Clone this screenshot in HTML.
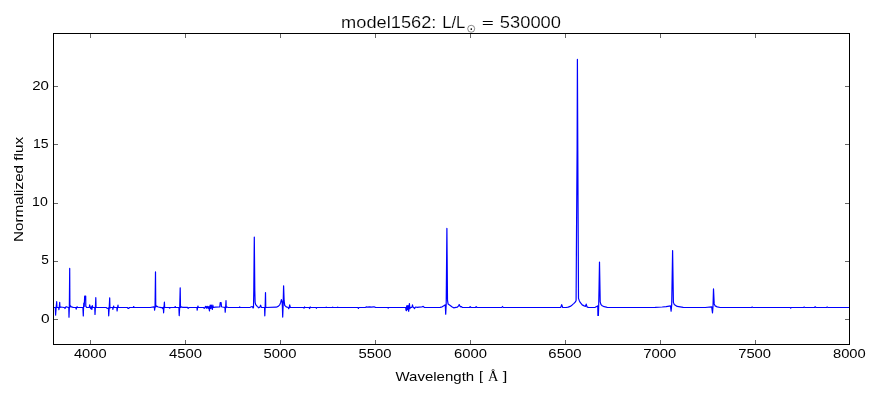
<!DOCTYPE html>
<html><head><meta charset="utf-8"><style>
html,body{margin:0;padding:0;background:#fff;width:880px;height:400px;overflow:hidden}
svg{display:block}
text{font-family:"Liberation Sans",sans-serif;fill:#000}
</style></head><body>
<svg width="880" height="400" viewBox="0 0 880 400">
<rect width="880" height="400" fill="#fff"/>
<defs><clipPath id="ax"><rect x="53" y="33" width="797" height="312"/></clipPath></defs>
<path d="M53.20 307.50 L55.35 307.50 L55.60 315.10 L56.15 307.50 L56.70 301.70 L56.95 307.50 L58.65 307.50 L58.90 309.70 L59.30 307.50 L59.70 302.30 L59.95 307.50 L60.70 307.00 L64.00 307.50 L64.50 307.50 L65.00 308.58 L65.50 307.50 L66.20 306.70 L68.40 307.50 L68.80 307.50 L69.00 317.20 L69.35 307.50 L69.70 268.40 L69.90 307.50 L70.30 305.60 L71.40 306.90 L73.20 307.30 L75.50 307.50 L75.75 307.50 L76.20 309.20 L76.65 307.50 L77.00 306.80 L77.80 307.50 L82.90 307.50 L83.30 315.90 L83.55 307.50 L83.80 303.00 L84.20 306.40 L84.70 296.00 L85.70 296.00 L85.80 306.40 L86.80 307.50 L89.20 307.50 L89.70 304.80 L90.30 307.80 L90.80 308.64 L91.30 306.90 L91.90 309.50 L92.30 305.60 L92.80 307.50 L94.75 307.50 L95.00 314.40 L95.40 307.50 L95.80 297.70 L96.05 307.50 L106.40 307.50 L107.00 308.28 L107.80 308.40 L108.45 308.00 L108.70 315.80 L109.20 308.00 L109.70 297.90 L109.95 308.00 L110.70 307.50 L112.65 307.50 L112.90 309.50 L113.30 307.50 L113.70 306.00 L113.95 307.50 L116.85 307.50 L117.10 311.00 L117.55 307.50 L118.00 305.20 L118.25 307.50 L127.50 307.50 L128.00 308.40 L128.80 308.40 L129.30 307.50 L133.20 307.50 L133.70 306.60 L134.20 307.50 L150.20 307.50 L153.80 306.80 L154.35 307.00 L154.60 310.20 L155.05 307.00 L155.50 271.80 L155.75 307.00 L156.10 305.90 L158.20 307.00 L161.20 307.70 L162.40 307.70 L162.80 308.70 L163.20 307.40 L163.35 307.50 L163.60 312.80 L164.00 307.50 L164.40 302.00 L164.65 307.50 L169.10 307.50 L169.70 308.22 L170.30 307.50 L174.70 307.50 L175.20 306.60 L175.70 307.50 L178.90 307.50 L179.20 315.60 L179.70 307.50 L180.20 287.80 L180.50 307.50 L181.40 306.90 L182.40 307.30 L187.50 307.30 L188.20 308.34 L189.10 307.50 L196.95 307.50 L197.20 310.20 L197.60 307.50 L198.00 306.00 L198.25 307.50 L203.70 307.50 L204.20 308.40 L205.00 307.40 L205.70 306.30 L206.40 308.22 L207.20 306.30 L208.00 308.34 L208.80 306.60 L209.45 311.00 L209.80 307.40 L210.20 305.20 L210.70 308.40 L211.30 305.20 L211.80 307.90 L212.40 309.50 L212.80 305.20 L213.30 307.50 L215.20 307.20 L219.80 306.90 L220.20 302.60 L221.10 302.60 L221.50 306.70 L222.40 307.00 L224.70 307.30 L224.95 307.50 L225.20 312.10 L225.60 307.50 L226.00 300.70 L226.25 307.50 L227.00 307.00 L228.20 307.50 L239.20 307.50 L239.70 307.00 L240.20 307.50 L250.20 307.30 L252.20 306.50 L253.10 308.00 L253.50 307.40 L253.80 290.40 L254.30 237.00 L254.80 290.40 L255.10 302.40 L255.70 304.60 L257.20 306.40 L258.70 307.80 L259.80 307.30 L260.60 305.20 L261.40 307.40 L264.55 307.50 L264.80 315.80 L265.15 307.50 L265.50 292.60 L265.75 307.50 L276.20 307.20 L278.20 306.40 L279.70 304.90 L280.70 302.40 L281.40 299.60 L282.10 301.90 L282.40 306.90 L282.70 317.10 L283.10 306.40 L283.60 285.80 L284.10 300.40 L284.70 305.40 L286.20 306.90 L288.20 307.50 L288.70 308.64 L289.20 307.50 L289.70 304.80 L290.30 307.50 L303.55 307.50 L304.00 308.16 L304.45 307.50 L304.30 307.50 L304.60 306.90 L304.90 307.50 L309.15 307.50 L309.60 308.52 L310.05 307.50 L309.90 307.50 L310.20 306.90 L310.50 307.50 L316.00 307.50 L316.40 308.30 L316.80 307.50 L325.70 307.50 L326.20 307.10 L326.70 307.50 L332.20 307.50 L332.70 307.10 L333.20 307.50 L337.20 307.50 L337.70 307.10 L338.20 307.50 L357.90 307.50 L358.40 308.40 L358.90 307.50 L365.20 307.50 L366.20 306.90 L367.40 307.10 L369.70 306.90 L371.20 307.10 L374.00 306.80 L374.80 307.10 L375.50 307.50 L387.70 307.50 L388.20 308.00 L388.70 307.50 L395.20 307.50 L405.70 307.50 L406.00 310.10 L406.40 310.70 L406.70 305.90 L407.10 305.90 L407.40 309.60 L407.70 306.90 L408.00 305.50 L408.30 307.40 L408.70 311.30 L409.05 307.40 L409.40 303.60 L409.70 306.90 L410.00 308.64 L410.40 307.40 L411.50 307.50 L412.10 306.90 L412.50 304.80 L412.90 306.90 L413.70 307.50 L414.60 308.52 L415.50 307.00 L417.20 307.30 L419.20 307.10 L421.70 307.00 L423.20 306.40 L424.20 307.30 L425.20 307.50 L440.20 307.30 L442.20 306.80 L444.70 305.20 L445.30 304.80 L445.70 314.10 L446.20 304.40 L446.90 228.40 L447.50 300.40 L448.10 303.90 L450.20 305.40 L452.20 306.90 L453.70 307.80 L457.20 307.20 L458.60 305.90 L459.20 304.60 L459.80 305.90 L460.60 306.80 L461.20 306.50 L462.40 307.50 L469.45 307.50 L470.20 306.60 L470.95 307.50 L475.45 307.50 L476.20 306.60 L476.95 307.50 L501.75 307.50 L502.50 306.50 L503.25 307.50 L560.70 307.50 L561.70 304.60 L562.70 307.50 L566.20 307.50 L568.20 307.10 L570.20 306.40 L572.20 304.90 L574.00 303.40 L575.40 301.90 L576.10 300.40 L576.50 235.40 L577.10 150.40 L577.40 59.40 L577.80 150.40 L578.20 235.40 L578.50 298.40 L579.20 300.40 L580.20 302.40 L582.20 304.90 L584.20 305.90 L585.50 306.40 L586.20 304.10 L587.00 306.90 L588.20 307.40 L592.20 307.50 L595.20 307.30 L597.20 306.20 L597.80 305.90 L597.90 315.40 L598.40 315.40 L598.70 304.90 L599.00 290.40 L599.50 262.10 L600.00 290.40 L600.20 301.90 L601.00 304.60 L602.20 305.70 L604.20 306.70 L607.20 307.30 L645.20 307.50 L655.20 307.30 L662.20 307.00 L666.20 306.60 L669.20 306.10 L670.50 305.90 L671.10 311.10 L671.70 304.90 L672.60 250.60 L673.40 302.40 L674.20 304.40 L677.20 306.40 L683.20 307.40 L705.20 307.50 L711.70 306.90 L712.50 312.80 L713.00 306.40 L713.50 288.90 L714.20 303.90 L715.20 305.90 L717.20 306.90 L720.20 307.50 L751.45 307.50 L752.20 307.00 L752.95 307.50 L790.20 307.50 L790.70 308.20 L791.20 307.50 L803.45 307.50 L804.20 307.00 L804.95 307.50 L814.45 307.50 L815.20 306.80 L815.95 307.50 L826.45 307.50 L827.20 307.00 L827.95 307.50 L849.70 307.50" fill="none" stroke="#0000ff" stroke-width="1.2" stroke-linejoin="round" clip-path="url(#ax)"/>
<g fill="#000">
<rect x="53" y="33" width="797" height="1"/>
<rect x="53" y="344" width="797" height="1"/>
<rect x="53" y="33" width="1" height="312"/>
<rect x="849" y="33" width="1" height="312"/>
</g>
<g fill="#000" fill-opacity="0.6">
<!-- x ticks top/bottom -->
<rect x="90" y="34" width="1" height="4"/><rect x="90" y="340" width="1" height="4"/>
<rect x="185" y="34" width="1" height="4"/><rect x="185" y="340" width="1" height="4"/>
<rect x="280" y="34" width="1" height="4"/><rect x="280" y="340" width="1" height="4"/>
<rect x="375" y="34" width="1" height="4"/><rect x="375" y="340" width="1" height="4"/>
<rect x="470" y="34" width="1" height="4"/><rect x="470" y="340" width="1" height="4"/>
<rect x="565" y="34" width="1" height="4"/><rect x="565" y="340" width="1" height="4"/>
<rect x="660" y="34" width="1" height="4"/><rect x="660" y="340" width="1" height="4"/>
<rect x="755" y="34" width="1" height="4"/><rect x="755" y="340" width="1" height="4"/>
<!-- y ticks -->
<rect x="54" y="86" width="4" height="1"/><rect x="845" y="86" width="4" height="1"/>
<rect x="54" y="144" width="4" height="1"/><rect x="845" y="144" width="4" height="1"/>
<rect x="54" y="203" width="4" height="1"/><rect x="845" y="203" width="4" height="1"/>
<rect x="54" y="261" width="4" height="1"/><rect x="845" y="261" width="4" height="1"/>
<rect x="54" y="319" width="4" height="1"/><rect x="845" y="319" width="4" height="1"/>
</g>
<g style="opacity:0.999"><text transform="matrix(1.22299 0 0 1.05634 73.933 357.873)" font-size="12">4000</text>
<text transform="matrix(1.23843 0 0 1.05634 168.928 357.873)" font-size="12">4500</text>
<text transform="matrix(1.23543 0 0 1.05634 263.507 357.873)" font-size="12">5000</text>
<text transform="matrix(1.23543 0 0 1.05634 358.507 357.873)" font-size="12">5500</text>
<text transform="matrix(1.23341 0 0 1.05634 454.060 357.873)" font-size="12">6000</text>
<text transform="matrix(1.24122 0 0 1.05634 548.355 357.873)" font-size="12">6500</text>
<text transform="matrix(1.24122 0 0 1.05634 643.255 357.873)" font-size="12">7000</text>
<text transform="matrix(1.23341 0 0 1.05634 738.160 357.873)" font-size="12">7500</text>
<text transform="matrix(1.23053 0 0 1.05634 832.936 357.873)" font-size="12">8000</text>
<text transform="matrix(1.25203 0 0 1.04460 32.149 89.775)" font-size="12">20</text>
<text transform="matrix(1.17253 0 0 1.03571 32.895 147.576)" font-size="12">15</text>
<text transform="matrix(1.17917 0 0 1.03286 32.039 205.576)" font-size="12">10</text>
<text transform="matrix(1.14035 0 0 1.04762 41.253 263.574)" font-size="12">5</text>
<text transform="matrix(1.28947 0 0 1.04460 41.031 322.775)" font-size="12">0</text>
<text transform="matrix(1.25282 0 0 1.09626 395.425 380.737)" font-size="12">Wavelength</text>
<text transform="matrix(1.20833 0 0 1.01604 479.085 379.940)" font-size="12">[</text>
<text transform="matrix(1.19976 0 0 1.20143 488.106 380.900)" font-size="12" style="font-family:Liberation Serif" stroke="none">Å</text>
<text transform="matrix(1.36752 0 0 1.01604 502.736 379.940)" font-size="12">]</text>
<text transform="matrix(0 -1.27451 1.10544 0 22.867 242.124)" font-size="12">Normalized flux</text>
<text transform="matrix(1.52038 0 0 1.32653 341.114 27.541)" font-size="12" stroke="#fff" stroke-width="0.1">model1562:</text>
<text transform="matrix(1.38889 0 0 1.32653 442.167 27.541)" font-size="12" stroke="#fff" stroke-width="0.1">L/L</text>
<text transform="matrix(1.74399 0 0 1.01562 481.704 27.072)" font-size="12" stroke="#fff" stroke-width="0.1">=</text>
<text transform="matrix(1.52607 0 0 1.38498 499.867 27.534)" font-size="12" stroke="#fff" stroke-width="0.1">530000</text></g>
<circle cx="471.2" cy="28.75" r="3.5" fill="none" stroke="#000" stroke-opacity="0.75" stroke-width="0.6"/>
<circle cx="471.3" cy="29.1" r="0.85" fill="#000"/>
</svg>
</body></html>
